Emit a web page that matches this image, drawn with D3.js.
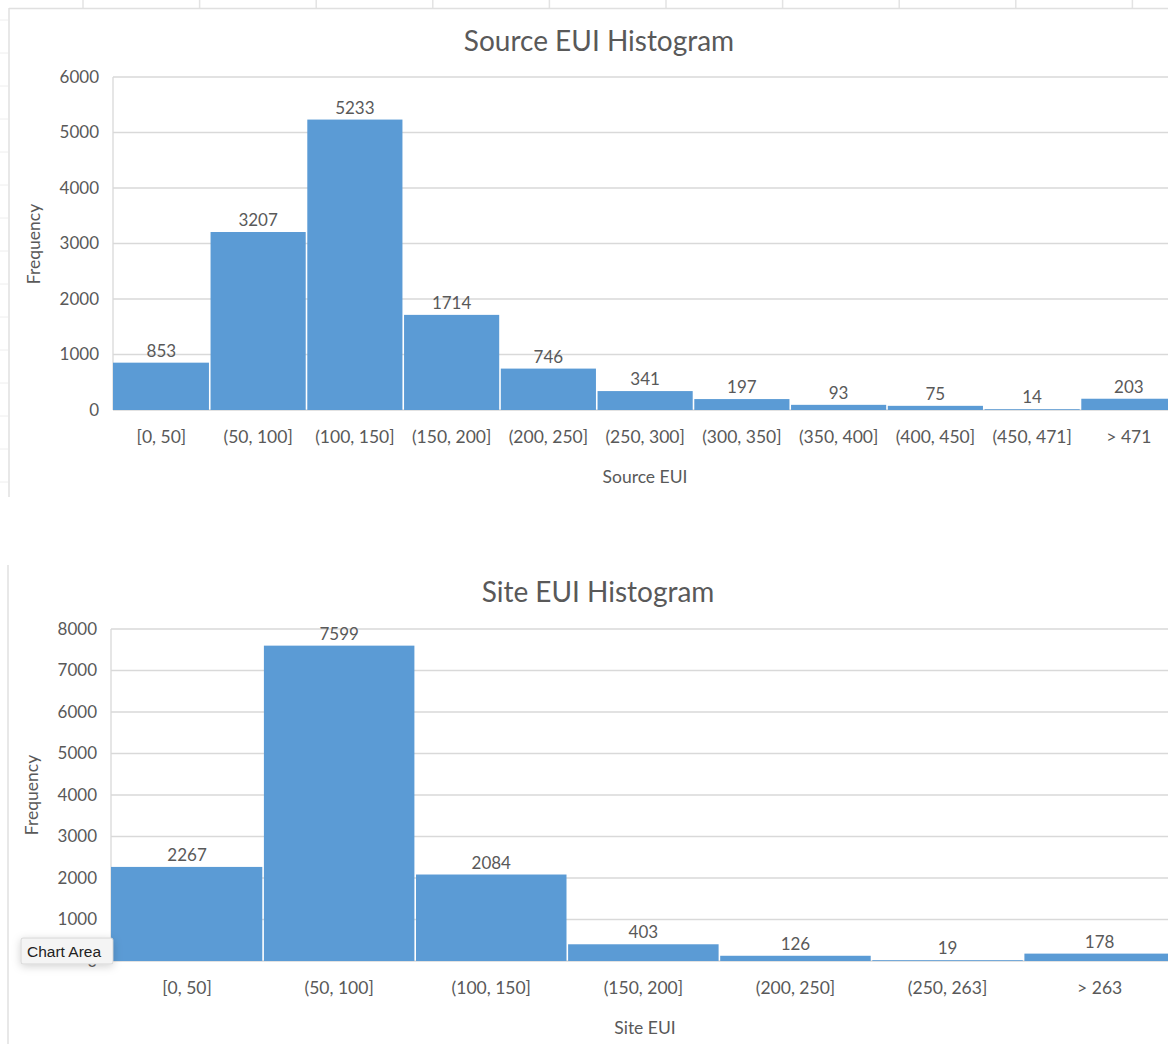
<!DOCTYPE html>
<html>
<head>
<meta charset="utf-8">
<script src="https://cdn.jsdelivr.net/npm/d3@7"></script>
<style>
  html, body { margin: 0; padding: 0; background: #fff; }
  svg { display: block; font-family: Lato, "Open Sans", sans-serif; }
</style>
</head>
<body>
<svg id="chart" width="1168" height="1044"></svg>
<script>
// Source EUI histogram
const sourceBins = ["[0, 50]", "(50, 100]", "(100, 150]", "(150, 200]", "(200, 250]", "(250, 300]",
                    "(300, 350]", "(350, 400]", "(400, 450]", "(450, 471]", "> 471"];
const sourceCounts = [853, 3207, 5233, 1714, 746, 341, 197, 93, 75, 14, 203];
const sourceTicks = [0, 1000, 2000, 3000, 4000, 5000, 6000];

// Site EUI histogram
const siteBins = ["[0, 50]", "(50, 100]", "(100, 150]", "(150, 200]", "(200, 250]", "(250, 263]", "> 263"];
const siteCounts = [2267, 7599, 2084, 403, 126, 19, 178];
const siteTicks = [0, 1000, 2000, 3000, 4000, 5000, 6000, 7000, 8000];

const TEXT = "#595959", GRID = "#d9d9d9", BAR = "#5b9bd5";
const svg = d3.select("#chart");

// faint worksheet lines peeking around the chart frames
const sheet = svg.append("g");
d3.range(83, 1168, 116.6).forEach(x =>
  sheet.append("line").attr("x1", x).attr("x2", x).attr("y1", 0).attr("y2", 8)
    .attr("stroke", "#e3e3e3").attr("stroke-width", 1.5));
d3.range(20, 500, 33).forEach(y =>
  sheet.append("line").attr("x1", 0).attr("x2", 8).attr("y1", y).attr("y2", y)
    .attr("stroke", "#eeeeee").attr("stroke-width", 1));
sheet.append("line").attr("x1", 9).attr("x2", 1168).attr("y1", 8.5).attr("y2", 8.5)
  .attr("stroke", "#e0e0e0").attr("stroke-width", 1.5);
sheet.append("line").attr("x1", 9).attr("x2", 9).attr("y1", 8).attr("y2", 497)
  .attr("stroke", "#e0e0e0").attr("stroke-width", 1.5);
sheet.append("line").attr("x1", 8).attr("x2", 8).attr("y1", 565).attr("y2", 1044)
  .attr("stroke", "#e0e0e0").attr("stroke-width", 1.5);

function histogram(cfg) {
  const g = svg.append("g");
  const x = d3.scaleBand().domain(cfg.bins).range([cfg.left, cfg.right]).padding(0);
  const y = d3.scaleLinear().domain([0, cfg.max]).range([cfg.bottom, cfg.top]);

  // horizontal gridlines
  g.append("g").selectAll("line").data(cfg.ticks).join("line")
    .attr("x1", cfg.left).attr("x2", 1168)
    .attr("y1", d => y(d)).attr("y2", d => y(d))
    .attr("stroke", GRID).attr("stroke-width", 1.3);
  // value axis line
  g.append("line").attr("x1", cfg.left).attr("x2", cfg.left)
    .attr("y1", cfg.top).attr("y2", cfg.bottom)
    .attr("stroke", GRID).attr("stroke-width", 1.3);

  // y tick labels
  const yAxis = d3.axisLeft(y).tickValues(cfg.ticks).tickSize(0).tickPadding(0).tickFormat(d3.format("d"));
  const ya = g.append("g").attr("transform", `translate(${cfg.tickRight},0)`).call(yAxis);
  ya.select(".domain").remove();
  ya.selectAll("text").attr("fill", TEXT).style("font-size", "17px").style("font-family", "Lato, sans-serif");

  // bars with thin white separators
  g.append("g").selectAll("rect").data(cfg.counts).join("rect")
    .attr("x", (d, i) => x(cfg.bins[i]) + (i === 0 ? 0 : 0.8))
    .attr("width", (d, i) => x.bandwidth() - (i === 0 ? 0.8 : 1.6))
    .attr("y", d => y(d))
    .attr("height", d => y(0) - y(d))
    .attr("fill", BAR);

  // value labels
  g.append("g").selectAll("text").data(cfg.counts).join("text")
    .attr("x", (d, i) => x(cfg.bins[i]) + x.bandwidth() / 2)
    .attr("y", d => y(d) - 6)
    .attr("text-anchor", "middle")
    .attr("fill", TEXT).style("font-size", "17px")
    .text(d => d);

  // category labels
  const xAxis = d3.axisBottom(x).tickSize(0).tickPadding(0);
  const xa = g.append("g").attr("transform", `translate(0,${cfg.bottom + 21})`).call(xAxis);
  xa.select(".domain").remove();
  xa.selectAll("text").attr("fill", TEXT).style("font-size", "17.5px").style("font-family", "Lato, sans-serif");

  // titles
  g.append("text").attr("x", cfg.titleX).attr("y", cfg.titleY)
    .attr("text-anchor", "middle").attr("dominant-baseline", "central")
    .attr("fill", TEXT).style("font-size", "28px").text(cfg.title);
  g.append("text").attr("x", 645).attr("y", cfg.xTitleY)
    .attr("text-anchor", "middle").attr("dominant-baseline", "central")
    .attr("fill", TEXT).style("font-size", "17.5px").text(cfg.xTitle);
  g.append("text")
    .attr("transform", `translate(${cfg.yTitleX},${cfg.yTitleY}) rotate(-90)`)
    .attr("text-anchor", "middle").attr("dominant-baseline", "central")
    .attr("fill", TEXT).style("font-size", "17.5px").text("Frequency");
}

histogram({
  bins: sourceBins, counts: sourceCounts, ticks: sourceTicks, max: 6000,
  left: 113, right: 113 + 11 * 96.75, top: 77, bottom: 410, tickRight: 99,
  title: "Source EUI Histogram", titleX: 599, titleY: 40,
  xTitle: "Source EUI", xTitleY: 476, yTitleX: 33, yTitleY: 244
});

histogram({
  bins: siteBins, counts: siteCounts, ticks: siteTicks, max: 8000,
  left: 111, right: 111 + 7 * 152.1, top: 629, bottom: 961, tickRight: 97,
  title: "Site EUI Histogram", titleX: 598, titleY: 591,
  xTitle: "Site EUI", xTitleY: 1027, yTitleX: 31, yTitleY: 795
});

// hover tooltip over the lower chart
const defs = svg.append("defs");
const f = defs.append("filter").attr("id", "tipShadow").attr("x", "-30%").attr("y", "-60%")
  .attr("width", "160%").attr("height", "260%");
f.append("feDropShadow").attr("dx", 0).attr("dy", 2).attr("stdDeviation", 4)
  .attr("flood-color", "#000").attr("flood-opacity", 0.18);
const tip = svg.append("g");
tip.append("rect").attr("x", 21).attr("y", 938).attr("width", 92).attr("height", 26)
  .attr("rx", 2).attr("fill", "#f4f4f4").attr("stroke", "#cfcfcf").attr("stroke-width", 0.8)
  .attr("filter", "url(#tipShadow)");
tip.append("text").attr("x", 27).attr("y", 951).attr("dominant-baseline", "central")
  .attr("fill", "#222").style("font-family", "'Liberation Sans', Arial, sans-serif")
  .style("font-size", "15.5px").text("Chart Area");
</script>
</body>
</html>
